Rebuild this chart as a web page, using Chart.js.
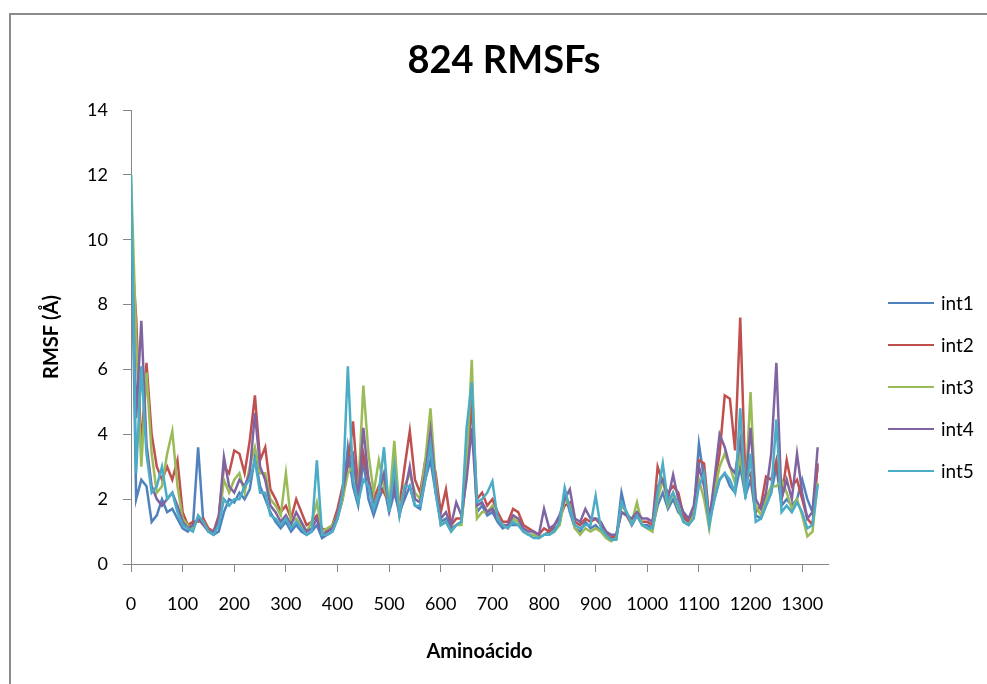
<!DOCTYPE html>
<html lang="es">
<head>
<meta charset="utf-8">
<title>824 RMSFs</title>
<script src="https://cdn.jsdelivr.net/npm/chart.js@4.4.1/dist/chart.umd.min.js"></script>
<style>
  html, body { margin: 0; padding: 0; background: #fff; overflow: hidden; }
  #wrap { width: 987px; height: 684px; }
</style>
</head>
<body>
<div id="wrap"><canvas id="rmsfChart" width="987" height="684"></canvas></div>
<script>
// Residuos (cada 10 aminoácidos)
const residuos = [
    0, 10, 20, 30, 40, 50, 60, 70, 80, 90,
    100, 110, 120, 130, 140, 150, 160, 170, 180, 190,
    200, 210, 220, 230, 240, 250, 260, 270, 280, 290,
    300, 310, 320, 330, 340, 350, 360, 370, 380, 390,
    400, 410, 420, 430, 440, 450, 460, 470, 480, 490,
    500, 510, 520, 530, 540, 550, 560, 570, 580, 590,
    600, 610, 620, 630, 640, 650, 660, 670, 680, 690,
    700, 710, 720, 730, 740, 750, 760, 770, 780, 790,
    800, 810, 820, 830, 840, 850, 860, 870, 880, 890,
    900, 910, 920, 930, 940, 950, 960, 970, 980, 990,
    1000, 1010, 1020, 1030, 1040, 1050, 1060, 1070, 1080, 1090,
    1100, 1110, 1120, 1130, 1140, 1150, 1160, 1170, 1180, 1190,
    1200, 1210, 1220, 1230, 1240, 1250, 1260, 1270, 1280, 1290,
    1300, 1310, 1320, 1330
];

// RMSF (Å) de cada réplica
const int1 = [
    11.2, 2.0, 2.6, 2.4, 1.3, 1.5, 2.0, 1.6, 1.7, 1.4,
    1.1, 1.0, 1.2, 3.6, 1.3, 1.0, 0.9, 1.0, 1.6, 2.0,
    1.9, 2.2, 2.0, 2.3, 3.3, 2.4, 2.0, 1.6, 1.3, 1.1,
    1.3, 1.0, 1.2, 1.0, 0.9, 1.0, 1.2, 0.8, 0.9, 1.0,
    1.4, 2.0, 3.6, 2.4, 1.8, 3.2, 2.0, 1.5, 2.0, 2.4,
    1.6, 2.2, 1.6, 2.0, 2.4, 1.8, 1.7, 2.6, 3.2, 2.2,
    1.3, 1.4, 1.1, 1.2, 1.3, 2.8, 5.0, 1.6, 1.8, 1.5,
    1.6, 1.3, 1.1, 1.2, 1.2, 1.2, 1.0, 0.9, 0.9, 0.8,
    0.9, 1.0, 1.1, 1.2, 2.2, 1.6, 1.1, 1.0, 1.3, 1.1,
    1.2, 1.0, 0.9, 0.8, 0.8, 2.2, 1.5, 1.3, 1.5, 1.2,
    1.2, 1.1, 1.8, 2.2, 1.7, 2.0, 1.6, 1.4, 1.3, 1.6,
    3.7, 2.6, 1.3, 2.0, 2.6, 2.8, 2.4, 2.2, 3.0, 2.1,
    2.6, 1.5, 1.4, 1.8, 2.2, 3.0, 1.8, 2.0, 1.8, 2.0,
    2.6, 2.0, 1.6, 3.0
];
const int2 = [
    10.0, 7.6, 3.5, 6.2, 4.0, 3.0, 2.6, 3.0, 2.6, 3.2,
    1.6, 1.2, 1.3, 1.3, 1.4, 1.1, 1.0, 1.5, 3.0, 2.8,
    3.5, 3.4, 2.8, 3.8, 5.2, 3.2, 3.6, 2.3, 2.0, 1.6,
    1.8, 1.4, 2.0, 1.6, 1.2, 1.3, 1.5, 1.1, 1.0, 1.2,
    1.7, 2.4, 3.0, 4.4, 2.3, 3.4, 2.6, 2.0, 2.4, 2.2,
    1.9, 2.6, 1.8, 3.0, 4.1, 2.6, 2.2, 3.2, 3.6, 2.8,
    1.6, 2.3, 1.2, 1.4, 1.4, 3.0, 5.1, 2.0, 2.2, 1.8,
    2.0, 1.6, 1.3, 1.3, 1.7, 1.6, 1.2, 1.1, 1.0, 0.9,
    1.1, 1.0, 1.2, 1.4, 1.8, 1.9, 1.3, 1.2, 1.4, 1.3,
    1.4, 1.2, 1.0, 0.8, 0.9, 1.6, 1.5, 1.2, 1.5, 1.3,
    1.3, 1.2, 3.0, 2.5, 2.2, 2.4, 2.2, 1.5, 1.3, 1.5,
    3.2, 3.1, 1.4, 2.4, 3.4, 5.2, 5.1, 3.5, 7.6, 2.6,
    2.8, 1.6, 1.8, 2.7, 2.6, 3.2, 2.0, 3.2, 2.4, 2.6,
    2.0, 1.4, 1.2, 3.1
];
const int3 = [
    12.0, 7.0, 3.0, 5.9, 3.4, 2.2, 2.4, 3.4, 4.1, 2.4,
    1.4, 1.2, 1.1, 1.4, 1.3, 1.0, 1.0, 1.3, 2.6, 2.2,
    2.6, 2.8, 2.2, 3.0, 3.6, 2.8, 2.8, 2.0, 1.8, 1.5,
    2.8, 1.3, 1.4, 1.2, 1.0, 1.3, 1.9, 1.0, 1.1, 1.2,
    1.5, 2.0, 2.8, 3.0, 2.2, 5.5, 3.4, 2.2, 3.2, 2.4,
    1.8, 3.8, 1.6, 2.4, 2.8, 2.2, 2.0, 3.2, 4.8, 2.6,
    1.2, 1.3, 1.0, 1.2, 1.2, 3.0, 6.3, 1.4, 1.6, 1.6,
    1.8, 1.4, 1.2, 1.1, 1.4, 1.3, 1.0, 0.9, 0.9, 0.8,
    0.9, 0.9, 1.0, 1.2, 2.0, 1.8, 1.1, 0.9, 1.1, 1.0,
    1.1, 1.0, 0.8, 0.7, 0.8, 1.8, 1.6, 1.3, 1.9, 1.2,
    1.1, 1.0, 2.0, 2.6, 1.8, 2.2, 1.7, 1.3, 1.2, 1.5,
    2.6, 2.0, 1.1, 2.2, 3.0, 3.4, 3.0, 2.5, 3.4, 2.2,
    5.3, 1.8, 1.5, 2.0, 2.4, 2.4, 2.6, 2.2, 1.7, 2.0,
    1.5, 0.85, 1.0, 2.5
];
const int4 = [
    10.5, 4.5, 7.5, 3.7, 2.4, 2.0, 1.8, 2.0, 2.2, 1.8,
    1.3, 1.1, 1.2, 1.4, 1.2, 1.0, 1.0, 1.4, 3.3, 2.4,
    2.2, 2.6, 2.4, 2.8, 4.65, 3.0, 2.6, 1.8, 1.6, 1.3,
    1.5, 1.2, 1.6, 1.3, 1.0, 1.1, 1.4, 0.9, 1.0, 1.1,
    1.5, 2.2, 3.2, 3.4, 2.0, 4.2, 2.6, 1.8, 2.2, 2.8,
    1.7, 2.4, 1.5, 2.2, 3.0, 2.0, 1.9, 2.8, 4.1, 2.4,
    1.4, 1.6, 1.2, 1.9, 1.5, 2.6, 4.2, 1.8, 1.9, 1.6,
    1.7, 1.4, 1.2, 1.2, 1.5, 1.4, 1.1, 1.0, 1.0, 0.9,
    1.7, 1.1, 1.2, 1.5, 2.0, 2.3, 1.4, 1.3, 1.7, 1.4,
    1.4, 1.3, 1.0, 0.9, 0.9, 1.6, 1.5, 1.4, 1.6, 1.4,
    1.4, 1.3, 2.4, 2.6, 2.0, 2.75, 2.0, 1.6, 1.4, 1.8,
    3.0, 2.4, 1.3, 2.6, 4.0, 3.6, 3.0, 2.8, 3.8, 2.4,
    4.2, 2.0, 1.7, 2.2, 3.4, 6.2, 2.0, 2.6, 2.0, 3.4,
    2.2, 1.4, 1.6, 3.6
];
const int5 = [
    12.0, 2.8, 6.1, 3.4, 2.2, 2.4, 3.0, 2.0, 2.2, 1.6,
    1.2, 1.1, 1.0, 1.5, 1.3, 1.0, 0.9, 1.2, 2.0, 1.8,
    2.0, 2.0, 2.4, 2.6, 3.2, 2.2, 2.2, 1.5, 1.4, 1.2,
    1.4, 1.1, 1.3, 1.1, 0.9, 1.0, 3.2, 0.9, 0.9, 1.0,
    1.4, 2.2, 6.1, 2.6, 1.9, 2.6, 2.4, 1.7, 2.2, 3.6,
    1.6, 3.0, 1.5, 2.4, 2.4, 1.8, 1.8, 2.6, 3.7, 2.2,
    1.2, 1.3, 1.0, 1.2, 1.3, 4.2, 5.6, 1.9, 2.0, 2.2,
    2.55, 1.4, 1.2, 1.1, 1.3, 1.2, 1.0, 0.9, 0.8, 0.8,
    0.9, 0.9, 1.0, 1.3, 2.35, 1.7, 1.2, 1.1, 1.2, 1.2,
    2.1, 1.1, 0.9, 0.75, 0.75, 1.9, 1.6, 1.2, 1.5, 1.2,
    1.1, 1.1, 2.2, 3.1, 1.9, 2.2, 1.8, 1.3, 1.2, 1.4,
    2.4, 2.8, 1.2, 2.0, 2.6, 2.8, 2.6, 2.2, 4.8, 2.0,
    3.4, 1.3, 1.4, 1.8, 2.2, 4.45, 1.6, 1.8, 1.6, 1.9,
    1.6, 1.1, 1.2, 2.45
];

// Etiquetas de los ejes
const xTicks = [0, 100, 200, 300, 400, 500, 600, 700, 800, 900, 1000, 1100, 1200, 1300];
const yTicks = [0, 2, 4, 6, 8, 10, 12, 14];

const nombres = ['int1', 'int2', 'int3', 'int4', 'int5'];
const series = [int1, int2, int3, int4, int5];
const colores = ['#4F81BD', '#C0504D', '#9BBB59', '#8064A2', '#4BACC6'];
const titulo = '824 RMSFs';

document.addEventListener('DOMContentLoaded', function() {
    // Fondo blanco y marco gris (estilo Excel)
    const marco = {
        id: 'marco',
        beforeDraw(chart) {
            const ctx = chart.ctx;
            ctx.save();
            ctx.fillStyle = '#fff';
            ctx.fillRect(0, 0, chart.width, chart.height);
            ctx.strokeStyle = '#8c8c8c';
            ctx.lineWidth = 2;
            ctx.strokeRect(10, 14, 1200, 900);
            ctx.restore();
        }
    };

    // Título y leyenda, centrados como en Excel
    const rotulos = {
        id: 'rotulos',
        afterDraw(chart) {
            const ctx = chart.ctx;
            ctx.save();
            ctx.fillStyle = '#000';
            ctx.textAlign = 'center';
            ctx.textBaseline = 'middle';
            ctx.font = 'bold 38px Lato';
            ctx.fillText(titulo, 504, 61);

            ctx.textAlign = 'left';
            ctx.font = '19px Lato';
            chart.data.datasets.forEach((ds, i) => {
                const y = 303 + i * 42;
                ctx.strokeStyle = ds.borderColor;
                ctx.lineWidth = 2;
                ctx.beginPath();
                ctx.moveTo(888, y);
                ctx.lineTo(934, y);
                ctx.stroke();
                ctx.fillText(ds.label, 941, y + 1);
            });
            ctx.restore();
        }
    };

    const datasets = series.map((valores, i) => ({
        label: nombres[i],
        data: residuos.map((r, j) => ({ x: r, y: valores[j] })),
        borderColor: colores[i],
        backgroundColor: colores[i],
        borderWidth: 2.5,
        pointRadius: 0,
        tension: 0,
        order: series.length - i
    }));

    const fuenteEje = { family: 'Lato', size: 18 };
    const fuenteTitulo = { family: 'Lato', size: 20, weight: 'bold' };

    function dibujar() {
        new Chart(document.getElementById('rmsfChart').getContext('2d'), {
            type: 'line',
            data: { datasets: datasets },
            options: {
                responsive: false,
                animation: false,
                layout: { padding: { left: 0, top: 110, right: 159, bottom: 0 } },
                plugins: {
                    legend: { display: false },
                    tooltip: { enabled: false },
                    title: { display: false }
                },
                scales: {
                    x: {
                        type: 'linear',
                        min: 0,
                        max: 1350,
                        afterBuildTicks: s => { s.ticks = xTicks.map(v => ({ value: v })); },
                        afterFit: s => { s.height = 120; },
                        grid: { drawOnChartArea: false, drawTicks: true, tickLength: 8, color: '#868686' },
                        border: { color: '#868686', width: 1 },
                        ticks: { color: '#000', font: fuenteEje, padding: 21, maxRotation: 0, autoSkip: false, callback: v => String(v) },
                        title: { display: true, text: 'Aminoácido', color: '#000', font: fuenteTitulo, padding: { bottom: 20 } }
                    },
                    y: {
                        min: 0,
                        max: 14,
                        afterBuildTicks: s => { s.ticks = yTicks.map(v => ({ value: v })); },
                        afterFit: s => { s.width = 131; },
                        grid: { drawOnChartArea: false, drawTicks: true, tickLength: 8, color: '#868686' },
                        border: { color: '#868686', width: 1 },
                        ticks: { color: '#000', font: fuenteEje, padding: 15, callback: v => String(v) },
                        title: { display: true, text: 'RMSF (Å)', color: '#000', font: fuenteTitulo, padding: { top: 40 } }
                    }
                }
            },
            plugins: [marco, rotulos]
        });
    }

    Promise.all([
        document.fonts.load('bold 38px Lato'),
        document.fonts.load('18px Lato')
    ]).then(dibujar, dibujar);
});
</script>
</body>
</html>
